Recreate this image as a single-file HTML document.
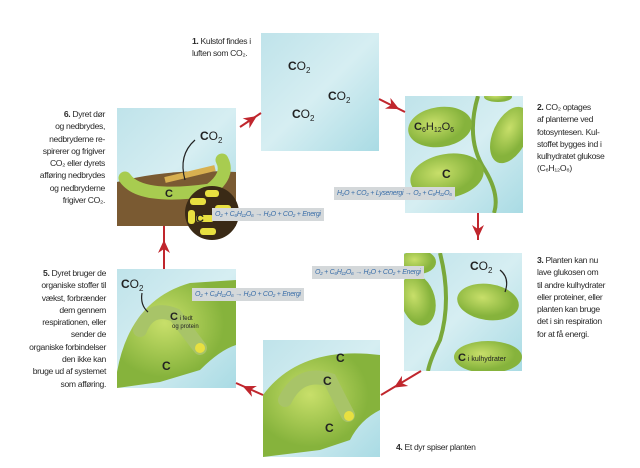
<!DOCTYPE html>
<html><head><meta charset="utf-8"><style>
body{margin:0;width:640px;height:468px;background:#fff;position:relative;overflow:hidden;font-family:"Liberation Sans",sans-serif;color:#2a2a2a}
.t{position:absolute;font-size:8.6px;line-height:12.3px;letter-spacing:-0.35px}
.r{text-align:right}
.eq{position:absolute;background:#d4d8da;color:#3a6ea8;font-style:italic;font-size:7px;line-height:13px;padding:0 3px;white-space:nowrap;letter-spacing:-0.3px}
svg text{font-family:"Liberation Sans",sans-serif}
</style></head><body>
<svg width="640" height="468" style="position:absolute;left:0;top:0">
<defs>
<linearGradient id="sky" x1="0" y1="0" x2="1" y2="1"><stop offset="0" stop-color="#bfe3ea"/><stop offset="0.5" stop-color="#d6eef2"/><stop offset="1" stop-color="#a9dbe4"/></linearGradient>
<radialGradient id="leaf" cx="0.4" cy="0.4"><stop offset="0" stop-color="#c8df6a"/><stop offset="1" stop-color="#86b33c"/></radialGradient>
<clipPath id="c2"><rect x="405" y="96" width="118" height="117"/></clipPath>
<clipPath id="c3"><rect x="404" y="253" width="118" height="118"/></clipPath>
<clipPath id="c6"><rect x="117" y="108" width="119" height="118"/></clipPath>
<polygon id="ah" points="7,0 -6,-6 -2,0 -6,6" fill="#c0262d"/>
</defs>
<!-- top box -->
<rect x="261" y="33" width="118" height="118" fill="url(#sky)"/>
<text x="288" y="70" font-size="12" fill="#222"><tspan font-weight="bold">C</tspan>O<tspan font-size="8" dy="3">2</tspan></text>
<text x="328" y="100" font-size="12" fill="#222"><tspan font-weight="bold">C</tspan>O<tspan font-size="8" dy="3">2</tspan></text>
<text x="292" y="118" font-size="12" fill="#222"><tspan font-weight="bold">C</tspan>O<tspan font-size="8" dy="3">2</tspan></text>
<!-- box2 -->
<rect x="405" y="96" width="118" height="117" fill="url(#sky)"/>
<g clip-path="url(#c2)">
<path d="M478 96 Q465 140 485 170 Q500 195 494 213" stroke="#7aa83a" stroke-width="4" fill="none"/>
<ellipse cx="440" cy="127" rx="32" ry="20" fill="url(#leaf)" transform="rotate(-8 440 127)"/>
<ellipse cx="510" cy="135" rx="17" ry="30" fill="url(#leaf)" transform="rotate(25 510 135)"/>
<ellipse cx="447" cy="176" rx="37" ry="22" fill="url(#leaf)" transform="rotate(-10 447 176)"/>
<ellipse cx="498" cy="97" rx="14" ry="5" fill="url(#leaf)"/>
</g>
<text x="414" y="130" font-size="11" fill="#222"><tspan font-weight="bold">C</tspan><tspan font-size="7" dy="2">6</tspan><tspan dy="-2">H</tspan><tspan font-size="7" dy="2">12</tspan><tspan dy="-2">O</tspan><tspan font-size="7" dy="2">6</tspan></text>
<text x="442" y="178" font-size="12" font-weight="bold" fill="#222">C</text>
<!-- box3 -->
<rect x="404" y="253" width="118" height="118" fill="url(#sky)"/>
<g clip-path="url(#c3)">
<path d="M440 253 Q452 300 440 340 Q430 360 428 371" stroke="#7aa83a" stroke-width="4" fill="none"/>
<ellipse cx="418" cy="262" rx="18" ry="12" fill="url(#leaf)"/>
<ellipse cx="418" cy="300" rx="17" ry="26" fill="url(#leaf)" transform="rotate(-15 418 300)"/>
<ellipse cx="488" cy="302" rx="31" ry="18" fill="url(#leaf)" transform="rotate(8 488 302)"/>
<ellipse cx="488" cy="357" rx="34" ry="16" fill="url(#leaf)"/>
</g>
<text x="470" y="270" font-size="12" fill="#222"><tspan font-weight="bold">C</tspan>O<tspan font-size="8" dy="3">2</tspan></text>
<path d="M505 292 Q510 278 500 270" stroke="#222" stroke-width="1.2" fill="none"/>
<text x="458" y="361" font-size="11" fill="#222"><tspan font-weight="bold">C</tspan><tspan font-size="7"> i kulhydrater</tspan></text>
<!-- box4 -->
<rect x="263" y="340" width="117" height="117" fill="url(#sky)"/>
<path d="M263 395 Q300 345 380 355 L380 410 Q360 420 350 440 L320 450 L263 457 Z" fill="url(#leaf)"/>
<path d="M285 400 Q300 370 330 380 Q340 400 348 415" stroke="#a8c468" stroke-width="14" fill="none" stroke-linecap="round"/>
<circle cx="349" cy="416" r="5" fill="#e8e040"/>
<text x="336" y="362" font-size="12" font-weight="bold" fill="#222">C</text>
<text x="323" y="385" font-size="12" font-weight="bold" fill="#222">C</text>
<text x="325" y="432" font-size="12" font-weight="bold" fill="#222">C</text>
<!-- box5 -->
<rect x="117" y="269" width="119" height="119" fill="url(#sky)"/>
<path d="M117 372 Q130 300 190 283 L236 280 L236 345 Q220 350 200 370 L160 382 L117 388 Z" fill="url(#leaf)"/>
<path d="M140 330 Q150 305 175 315 Q190 335 200 348" stroke="#a8c468" stroke-width="14" fill="none" stroke-linecap="round"/>
<circle cx="200" cy="348" r="5" fill="#e8e040"/>
<text x="121" y="288" font-size="12" fill="#222"><tspan font-weight="bold">C</tspan>O<tspan font-size="8" dy="3">2</tspan></text>
<path d="M148 312 Q140 305 142 293" stroke="#222" stroke-width="1.2" fill="none"/>
<text x="170" y="320" font-size="11" fill="#222"><tspan font-weight="bold">C</tspan><tspan font-size="6"> i fedt</tspan></text>
<text x="172" y="328" font-size="6" fill="#222">og protein</text>
<text x="162" y="370" font-size="12" font-weight="bold" fill="#222">C</text>
<!-- box6 -->
<rect x="117" y="108" width="119" height="118" fill="url(#sky)"/>
<g clip-path="url(#c6)">
<path d="M117 182 Q170 168 236 172 L236 226 L117 226 Z" fill="#7a5a32"/>
<path d="M125 178 Q140 200 210 190 Q230 175 222 160" stroke="#a8cc50" stroke-width="13" fill="none" stroke-linecap="round"/>
<path d="M165 180 L215 168" stroke="#d8b050" stroke-width="6"/>
</g>
<text x="200" y="140" font-size="12" fill="#222"><tspan font-weight="bold">C</tspan>O<tspan font-size="8" dy="3">2</tspan></text>
<path d="M185 180 Q178 155 195 140" stroke="#222" stroke-width="1.2" fill="none"/>
<text x="165" y="197" font-size="11" font-weight="bold" fill="#222">C</text>
<circle cx="212" cy="213" r="27" fill="#3a2a16"/>
<g fill="#e8e040"><rect x="190" y="198" width="16" height="7" rx="3"/><rect x="205" y="190" width="14" height="7" rx="3"/><rect x="196" y="215" width="18" height="7" rx="3"/><rect x="215" y="205" width="16" height="7" rx="3"/><rect x="200" y="228" width="16" height="7" rx="3"/><rect x="188" y="210" width="7" height="14" rx="3"/></g>
<text x="196" y="222" font-size="11" font-weight="bold" fill="#222">C</text>
<!-- arrows -->
<g stroke="#c0262d" stroke-width="2">
<line x1="240" y1="127" x2="261" y2="113"/>
<line x1="379" y1="99" x2="405" y2="112"/>
<line x1="478" y1="213" x2="478" y2="240"/>
<line x1="421" y1="371" x2="381" y2="395"/>
<line x1="263" y1="395" x2="236" y2="383"/>
<line x1="164" y1="269" x2="164" y2="226"/>
</g>
<use href="#ah" transform="translate(251,120) rotate(-34)"/>
<use href="#ah" transform="translate(393,106) rotate(27)"/>
<use href="#ah" transform="translate(478,231) rotate(90)"/>
<use href="#ah" transform="translate(400,384) rotate(149)"/>
<use href="#ah" transform="translate(249,389) rotate(204)"/>
<use href="#ah" transform="translate(164,247) rotate(-90)"/>
</svg>
<div class="eq" style="left:334px;top:187px">H₂O + CO₂ + Lysenergi → O₂ + C₆H₁₂O₆</div>
<div class="eq" style="left:212px;top:208px">O₂ + C₆H₁₂O₆ → H₂O + CO₂ + Energi</div>
<div class="eq" style="left:312px;top:266px">O₂ + C₆H₁₂O₆ → H₂O + CO₂ + Energi</div>
<div class="eq" style="left:192px;top:288px">O₂ + C₆H₁₂O₆ → H₂O + CO₂ + Energi</div>
<div class="t" style="left:192px;top:35px"><b>1.</b> Kulstof findes i<br>luften som CO₂.</div>
<div class="t" style="left:537px;top:101px"><b>2.</b> CO₂ optages<br>af planterne ved<br>fotosyntesen. Kul-<br>stoffet bygges ind i<br>kulhydratet glukose<br>(C₆H₁₂O₆)</div>
<div class="t" style="left:537px;top:254px"><b>3.</b> Planten kan nu<br>lave glukosen om<br>til andre kulhydrater<br>eller proteiner, eller<br>planten kan bruge<br>det i sin respiration<br>for at få energi.</div>
<div class="t" style="left:396px;top:441px"><b>4.</b> Et dyr spiser planten</div>
<div class="t r" style="left:0;width:106px;top:267px"><b>5.</b> Dyret bruger de<br>organiske stoffer til<br>vækst, forbrænder<br>dem gennem<br>respirationen, eller<br>sender de<br>organiske forbindelser<br>den ikke kan<br>bruge ud af systemet<br>som afføring.</div>
<div class="t r" style="left:0;width:105px;top:108px"><b>6.</b> Dyret dør<br>og nedbrydes,<br>nedbryderne re-<br>spirerer og frigiver<br>CO₂ eller dyrets<br>afføring nedbrydes<br>og nedbryderne<br>frigiver CO₂.</div>
</body></html>
